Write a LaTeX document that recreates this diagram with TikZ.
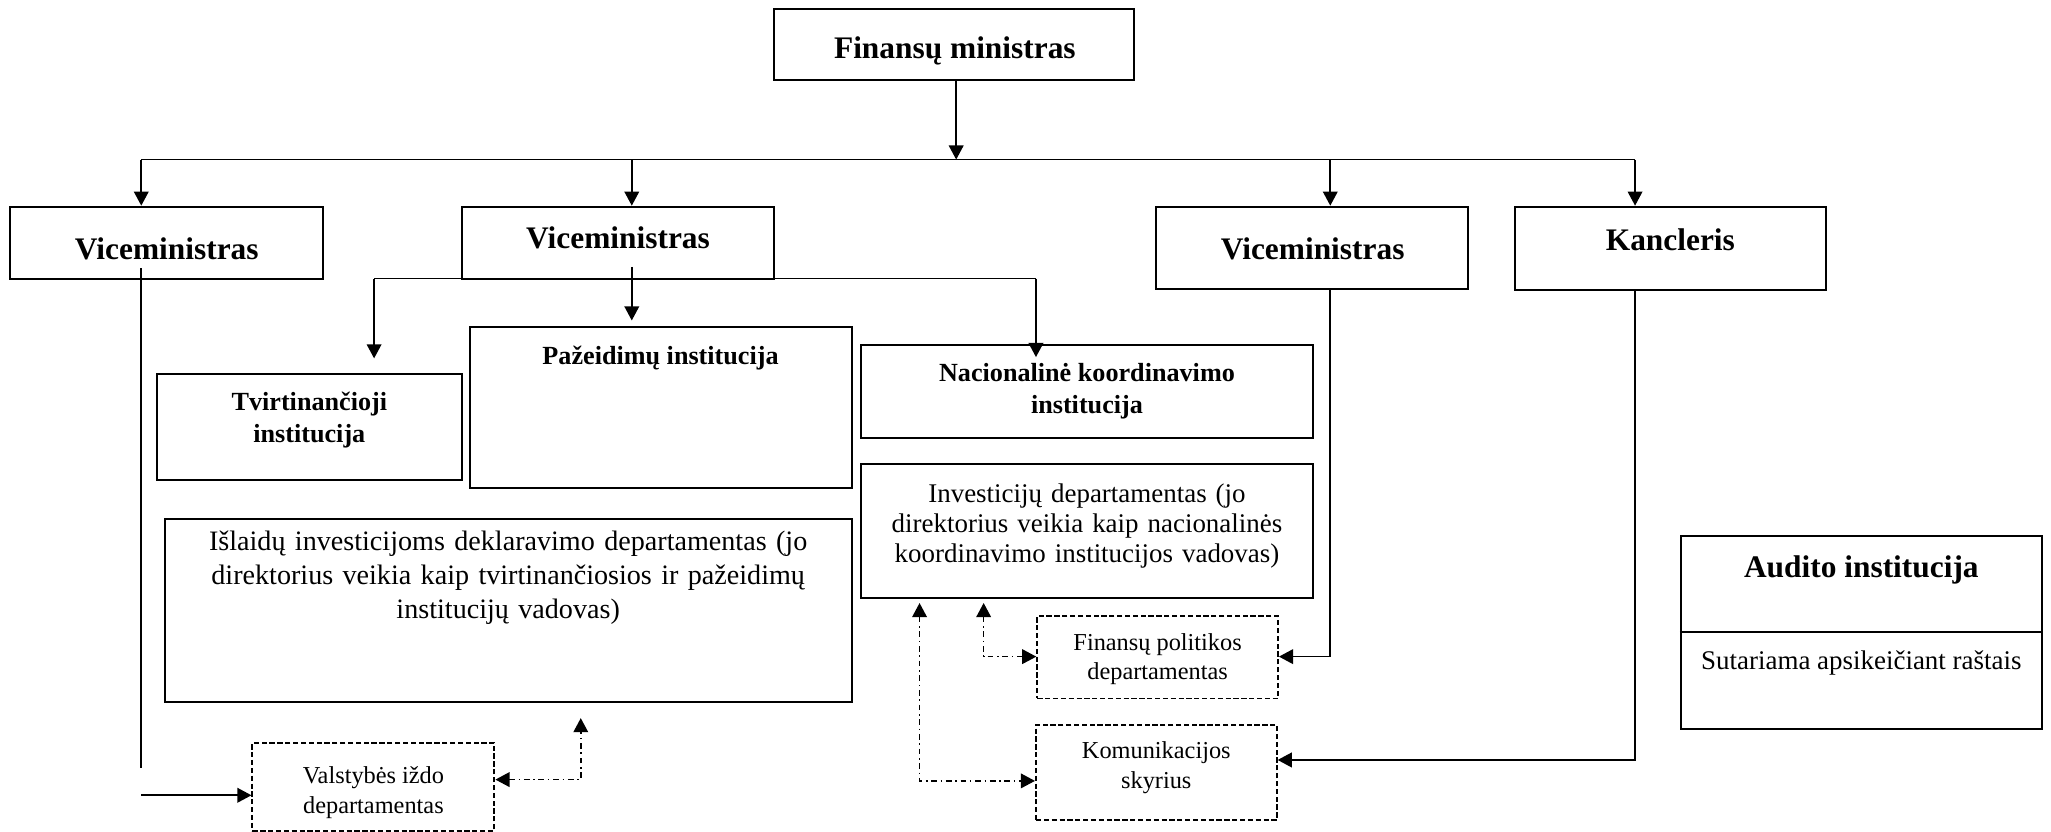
\documentclass[tikz,border=0pt]{standalone}
\usepackage{fontspec}
\setmainfont{Liberation Serif}
\usetikzlibrary{arrows.meta}
\tikzset{
  box/.style={draw, line width=0.75pt, inner sep=0pt},
  dbox/.style={draw, line width=0.75pt, inner sep=0pt, dash pattern=on 2pt off 1pt},
  ln/.style={line width=0.65pt},
  tip/.tip={Triangle[length=5.4pt,width=5.6pt]},
  arr/.style={line width=0.65pt, -tip},
  dd/.style={line width=0.6pt, dash pattern=on 2.2pt off 1.4pt on 0.6pt off 1.4pt},
  ddarr/.style={dd, tip-tip},
  big/.style={font=\fontsize{12}{14}\selectfont\bfseries, align=center, inner sep=0pt},
  mid/.style={font=\fontsize{10}{12}\selectfont\bfseries, align=center, inner sep=0pt},
  reg/.style={font=\fontsize{10.3}{11.5}\selectfont, align=center, inner sep=0pt},
  sml/.style={font=\fontsize{9.3}{11.3}\selectfont, align=center, inner sep=0pt},
}
\begin{document}
\begin{tikzpicture}[x=0.5pt,y=-0.5pt]
\useasboundingbox (0,0) rectangle (1568,636);
% boxes
\node[box, minimum width=137.5pt, minimum height=27pt] (fm) at (729.5,34) {};
\node[big] (fmt) at (730,39) {Finansų ministras};
\node[box, minimum width=119.5pt, minimum height=27.5pt] (v1) at (127.5,185.5) {};
\node[big] (v1t) at (127.5,190) {Viceministras};
\node[box, minimum width=119.5pt, minimum height=27.5pt] (v2) at (472.5,185.5) {};
\node[big] (v2t) at (472.5,182) {Viceministras};
\node[box, minimum width=119pt, minimum height=31.5pt] (v3) at (1003,189.5) {};
\node[big] (v3t) at (1003.5,190) {Viceministras};
\node[box, minimum width=119pt, minimum height=32pt] (ka) at (1277,190) {};
\node[big] (kat) at (1277,183) {Kancleris};
\node[box, minimum width=116.5pt, minimum height=40.5pt] (tv) at (236.5,326.5) {};
\node[mid] (tvt) at (236.5,321) {Tvirtinančioji\\institucija};
\node[box, minimum width=146pt, minimum height=61.5pt] (pa) at (505,311.5) {};
\node[mid] (pat) at (505,274) {Pažeidimų institucija};
\node[box, minimum width=173pt, minimum height=35.5pt] (na) at (831,299.5) {};
\node[mid] (nat) at (831,299) {Nacionalinė koordinavimo\\institucija};
\node[box, minimum width=173pt, minimum height=51pt] (in) at (831,406) {};
\node[reg, text width=170pt] (int) at (831,402) {Investicijų departamentas (jo\\direktorius veikia kaip nacionalinės\\koordinavimo institucijos vadovas)};
\node[box, minimum width=262.5pt, minimum height=70pt] (is) at (388.5,467) {};
\node[reg, text width=260pt, font=\fontsize{10.75}{13}\selectfont] (ist) at (388.5,442) {Išlaidų investicijoms deklaravimo departamentas (jo\\direktorius veikia kaip tvirtinančiosios ir pažeidimų\\institucijų vadovas)};
\node[box, minimum width=138pt, minimum height=73.5pt] (au) at (1423,483.5) {};
\draw[line width=0.75pt] (au.west |- 0,483) coordinate (audl) -- (au.east |- 0,483) coordinate (audr);
\node[big] (aut) at (1423,436) {Audito institucija};
\node[reg] (aus) at (1423,507) {Sutariama apsikeičiant raštais};
\node[dbox, minimum width=92pt, minimum height=31.5pt] (fp) at (885,502.5) {};
\node[sml] (fpt) at (885,504) {Finansų politikos\\departamentas};
\node[dbox, minimum width=92pt, minimum height=36.5pt] (ko) at (884,590.5) {};
\node[sml, font=\fontsize{9.3}{11.5}\selectfont] (kot) at (884,587) {Komunikacijos\\skyrius};
\node[dbox, minimum width=92.5pt, minimum height=33.5pt] (va) at (285.5,601.5) {};
\node[sml] (vat) at (285.5,606) {Valstybės iždo\\departamentas};
% top bus
\coordinate (b1) at (108,122);
\coordinate (b2) at (483,122);
\coordinate (bm) at (731,122);
\coordinate (b3) at (1017,122);
\coordinate (b4) at (1250,122);
\draw[arr] (fm.south -| bm) -- (bm);
\draw[ln] (b1) -- (b4);
\draw[arr] (b1) -- (b1 |- v1.north);
\draw[arr] (b2) -- (b2 |- v2.north);
\draw[arr] (b3) -- (b3 |- v3.north);
\draw[arr] (b4) -- (b4 |- ka.north);
% second level
\coordinate (s0) at (483,204);
\coordinate (s0e) at (483,245);
\coordinate (sl) at (286,213);
\coordinate (sle) at (286,274);
\coordinate (sr) at (792,213);
\coordinate (sre) at (792,273);
\draw[arr] (s0) -- (s0e);
\draw[ln] (sl) -- (sr);
\draw[arr] (sl) -- (sle);
\draw[arr] (sr) -- (sre);
% viceministras 1 line
\coordinate (v1a) at (108,205);
\coordinate (v1b) at (108,587);
\coordinate (v1c) at (108,608);
\draw[ln] (v1a) -- (v1b);
\draw[arr] (v1c) -- (v1c -| va.west);
% viceministras 3
\coordinate (v3a) at (1017,221);
\coordinate (v3b) at (1017,502);
\draw[arr] (v3a) -- (v3b) -- (v3b -| fp.east);
% kancleris
\coordinate (kaa) at (1250,222);
\coordinate (kab) at (1250,581);
\draw[arr] (kaa) -- (kab) -- (kab -| ko.east);
% dash-dot links
\coordinate (d1) at (444,596);
\coordinate (d1t) at (444,549);
\draw[ddarr] (va.east |- d1) -- (d1) -- (d1t);
\coordinate (d2t) at (752,461);
\coordinate (d2) at (752,502);
\draw[ddarr] (d2t) -- (d2) -- (d2 -| fp.west);
\coordinate (d3t) at (703,461);
\coordinate (d3) at (703,597);
\draw[ddarr] (d3t) -- (d3) -- (d3 -| ko.west);
\end{tikzpicture}
\end{document}
